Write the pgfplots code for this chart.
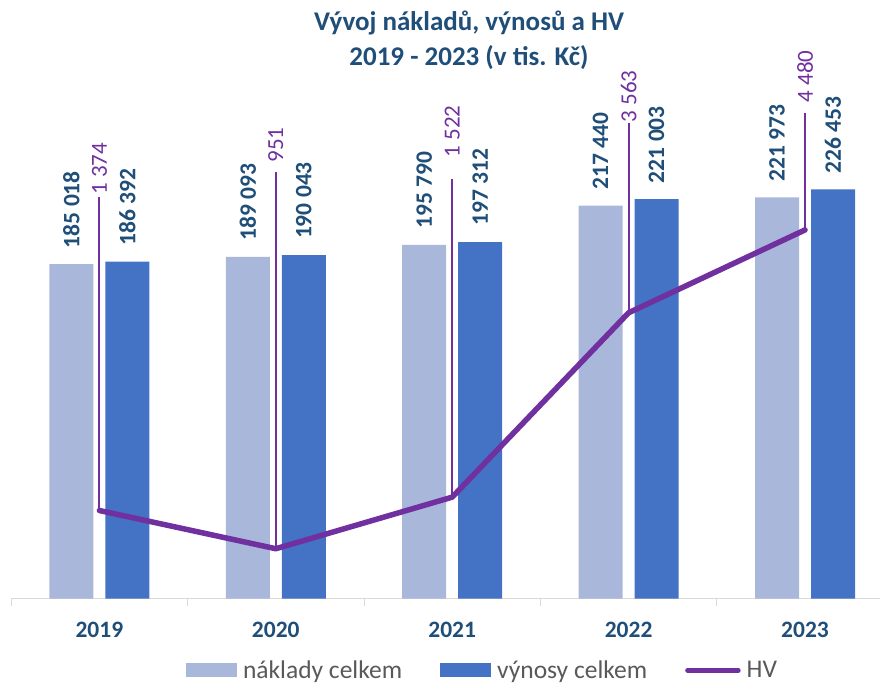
\documentclass[border=0pt]{standalone}
\usepackage{fontspec}
\setmainfont{Carlito}
\usepackage{pgfplots}
\pgfplotsset{compat=1.18}
\definecolor{naklady}{HTML}{A9B7DB}
\definecolor{vynosy}{HTML}{4472C4}
\definecolor{hv}{HTML}{7030A0}
\definecolor{lbl}{HTML}{1F4E79}
\definecolor{axisgray}{HTML}{D9D9D9}
\definecolor{legtext}{HTML}{595959}
\begin{document}
\begin{tikzpicture}
\path[use as bounding box] (0pt,0pt) rectangle (880pt,685pt);
\begin{axis}[
  at={(11.2pt,86.5pt)}, anchor=south west,
  scale only axis, width=882pt, height=542pt,
  xmin=-0.5, xmax=4.5, ymin=0, ymax=300000,
  axis x line*=bottom, axis y line=none,
  axis line style={axisgray, line width=1pt, -},
  xtick={0,1,2,3,4},
  xticklabels={2019,2020,2021,2022,2023},
  major tick length=0pt,
  extra x ticks={-0.5,0.5,1.5,2.5,3.5,4.5},
  extra x tick labels={},
  extra x tick style={major tick length=7pt, tick align=outside, tick style={axisgray, line width=1pt}},
  xticklabel style={font=\fontsize{23.5}{28}\selectfont\bfseries, text=lbl, anchor=base, yshift=-38.5pt},
  ybar, bar width=44pt,
  nodes near coords,
  /pgf/number format/fixed, /pgf/number format/precision=0,
  /pgf/number format/1000 sep={\ }, /pgf/number format/assume math mode=true,
  nodes near coords style={anchor=west, rotate=90, inner xsep=16pt, inner ysep=0pt,
    font=\fontsize{23.5}{28}\selectfont\bfseries, text=lbl},
  legend columns=3,
  legend style={at={(0.198,-0.1325)}, anchor=west, draw=none, fill=none, inner sep=0pt,
    font=\fontsize{25.5}{30}\selectfont, text=legtext,
    nodes={inner sep=0pt},
    /tikz/every odd column/.append style={column sep=6pt},
    /tikz/every even column/.append style={column sep=38pt}},
]
\addplot[fill=naklady, draw=none, bar shift=-28pt,
  legend image code/.code={\fill[naklady] (0pt,-7pt) rectangle (51pt,7pt);}]
  coordinates {(0,185018) (1,189093) (2,195790) (3,217440) (4,221973)};
\addlegendentry{náklady celkem}
\addplot[fill=vynosy, draw=none, bar shift=28pt,
  legend image code/.code={\fill[vynosy] (0pt,-7pt) rectangle (51pt,7pt);}]
  coordinates {(0,186392) (1,190043) (2,197312) (3,221003) (4,226453)};
\addlegendentry{výnosy celkem}
\addlegendimage{legend image code/.code={\draw[hv, line width=5pt, line cap=round] (2.5pt,0pt) -- (53pt,0pt);}}
\addlegendentry{HV}
\end{axis}
\begin{axis}[
  at={(11.2pt,86.5pt)}, anchor=south west,
  scale only axis, width=882pt, height=542pt,
  xmin=-0.5, xmax=4.5, ymin=400, ymax=6400,
  hide axis,
]
% leader lines
\addplot[hv, line width=2pt, no marks] coordinates {(0,1374) (0,4847)};
\addplot[hv, line width=2pt, no marks] coordinates {(1,951) (1,5125)};
\addplot[hv, line width=2pt, no marks] coordinates {(2,1522) (2,5047)};
\addplot[hv, line width=2pt, no marks] coordinates {(3,3563) (3,5669)};
\addplot[hv, line width=2pt, no marks] coordinates {(4,4480) (4,5780)};
% HV line
\addplot[hv, line width=5.5pt, line cap=round, line join=round, no marks]
  coordinates {(0,1374) (1,951) (2,1522) (3,3563) (4,4480)};
% HV labels
\addplot[draw=none, no marks, nodes near coords, point meta=explicit symbolic,
  nodes near coords style={anchor=west, rotate=90, inner sep=0pt,
    font=\fontsize{23}{27}\selectfont, text=hv}]
  coordinates {(0,4869) [1 374] (1,5225) [951] (2,5280) [1 522] (3,5669) [3 563] (4,5891) [4 480]};
\end{axis}
\node[align=center, font=\fontsize{27}{35}\selectfont\bfseries, text=lbl] at (469pt,645pt)
  {Vývoj nákladů, výnosů a HV\\2019 - 2023 (v tis. Kč)};
\end{tikzpicture}
\end{document}
